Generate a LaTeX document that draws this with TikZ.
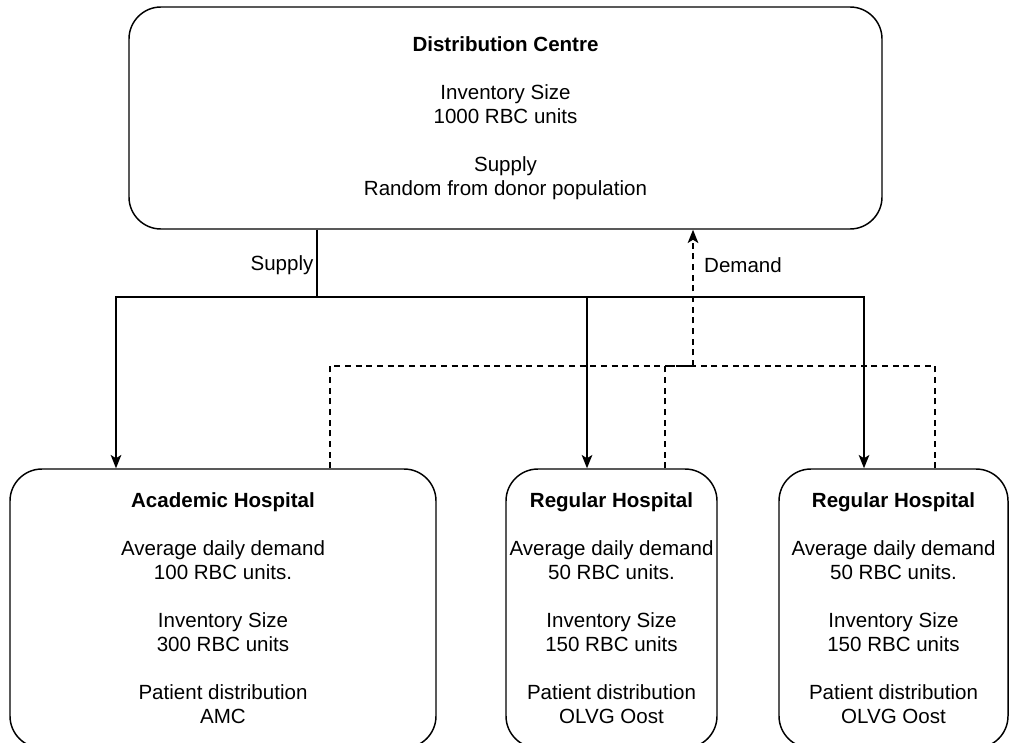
\documentclass[tikz,border=0pt]{standalone}
\usepackage{fontspec}
\setmainfont{Liberation Sans}
\usetikzlibrary{arrows.meta}
\begin{document}
\begin{tikzpicture}[x=0.75pt,y=-0.75pt,
  box/.style={draw, line width=1.1pt, rounded corners=24pt, align=center, inner sep=0pt,
    font=\fontsize{15.4}{18}\selectfont},
  conn/.style={line width=1.1pt},
  arr/.style={conn, -{Stealth[length=10pt,width=8pt,inset=2.5pt]}},
  dconn/.style={conn, dash pattern=on 4.5pt off 3.5pt},
  darr/.style={dconn, -{Stealth[length=10pt,width=8pt,inset=2.5pt]}},
  lbl/.style={font=\fontsize{15.4}{18}\selectfont, inner sep=0pt}]
\useasboundingbox (0,0) rectangle (1009,742);
\clip (0,0) rectangle (1009,742);
\node[box, minimum width=564.75pt, minimum height=166.5pt] (top) at (505.5,118)
  {\textbf{Distribution Centre}\\[18pt]Inventory Size\\1000 RBC units\\[18pt]Supply\\Random from donor population};
\node[box, minimum width=319.5pt, minimum height=209.25pt] (ah) at (223,608.5)
  {\textbf{Academic Hospital}\\[18pt]Average daily demand\\100 RBC units.\\[18pt]Inventory Size\\300 RBC units\\[18pt]Patient distribution\\AMC};
\node[box, minimum width=158.25pt, minimum height=209.25pt] (r1) at (611.5,608.5)
  {\textbf{Regular Hospital}\\[18pt]Average daily demand\\50 RBC units.\\[18pt]Inventory Size\\150 RBC units\\[18pt]Patient distribution\\OLVG Oost};
\node[box, minimum width=171.75pt, minimum height=209.25pt] (r2) at (893.5,608.5)
  {\textbf{Regular Hospital}\\[18pt]Average daily demand\\50 RBC units.\\[18pt]Inventory Size\\150 RBC units\\[18pt]Patient distribution\\OLVG Oost};
% supply
\coordinate (sj) at (317,297);
\coordinate (xa) at (116,0);
\coordinate (xb) at (587,0);
\coordinate (xc) at (864,0);
\draw[conn] (top.south -| sj) -- (sj);
\draw[arr] (sj) -| (ah.north -| xa);
\draw[arr] (sj) -| (r1.north -| xb);
\draw[arr] (sj) -| (r2.north -| xc);
% demand
\coordinate (dj) at (693,366);
\coordinate (da) at (330,0);
\coordinate (db) at (665,0);
\coordinate (dc) at (935,0);
\draw[dconn] (ah.north -| da) |- (dj);
\draw[dconn] (r1.north -| db) |- (dj);
\draw[dconn] (r2.north -| dc) |- (dj);
\draw[darr] (dj) -- (top.south -| dj);
\node[lbl] (sl) at (282,265) {Supply};
\node[lbl] (dl) at (743,265) {Demand};
\end{tikzpicture}
\end{document}
